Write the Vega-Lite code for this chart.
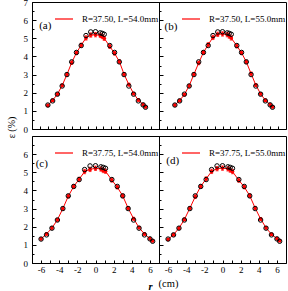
{
  "$schema": "https://vega.github.io/schema/vega-lite/v6.json",
  "padding": {"left": 6, "top": -3, "right": 2, "bottom": 0},
  "spacing": 0,
  "config": {
    "font": "Liberation Serif",
    "view": {"stroke": "#000", "strokeWidth": 1},
    "axis": {"domainColor": "#000", "tickColor": "#000", "labelColor": "#000", "labelFont": "Liberation Serif", "labelFontSize": 9, "grid": false, "titleFont": "Liberation Serif", "tickWidth": 1, "domainWidth": 1, "labelOverlap": false, "title": null},
    "legend": {"orient": "none", "legendX": 22, "legendY": 7, "symbolType": "stroke", "symbolSize": 324, "symbolStrokeWidth": 1.2, "symbolStrokeColor": "#ff0000", "labelFont": "Liberation Serif", "labelFontSize": 9, "labelColor": "#000", "labelLimit": 0, "labelOffset": 8, "padding": 0},
    "title": {"font": "Liberation Serif", "fontWeight": "normal", "color": "#000"}
  },
  "title": {"text": "r", "orient": "bottom", "anchor": "middle", "fontSize": 10.5, "fontWeight": "bold", "fontStyle": "italic", "offset": -8, "dx": 4},
  "datasets": {
    "exp": [
      {"x": -6, "y": 1.32}, {"x": -5.4, "y": 1.55}, {"x": -4.8, "y": 1.92}, {"x": -4.2, "y": 2.37},
      {"x": -3.6, "y": 3.0}, {"x": -3.0, "y": 3.7}, {"x": -2.4, "y": 4.22}, {"x": -1.8, "y": 4.6},
      {"x": -1.2, "y": 5.15}, {"x": -0.6, "y": 5.35}, {"x": 0, "y": 5.36}, {"x": 0.6, "y": 5.3},
      {"x": 0.85, "y": 5.27}, {"x": 1.1, "y": 5.22}, {"x": 1.8, "y": 4.6}, {"x": 2.4, "y": 4.22},
      {"x": 3.0, "y": 3.7}, {"x": 3.6, "y": 3.0}, {"x": 4.2, "y": 2.37}, {"x": 4.8, "y": 1.92},
      {"x": 5.4, "y": 1.55}, {"x": 6.0, "y": 1.33}, {"x": 6.3, "y": 1.2}
    ],
    "sim": [
      {"p": "a", "x": -6, "y": 1.30, "e": 0.06}, {"p": "a", "x": -5.4, "y": 1.58, "e": 0.07}, {"p": "a", "x": -4.8, "y": 1.92, "e": 0.07}, {"p": "a", "x": -4.2, "y": 2.40, "e": 0.08},
      {"p": "a", "x": -3.6, "y": 3.00, "e": 0.09}, {"p": "a", "x": -3.0, "y": 3.66, "e": 0.1}, {"p": "a", "x": -2.4, "y": 4.20, "e": 0.1}, {"p": "a", "x": -1.8, "y": 4.62, "e": 0.11},
      {"p": "a", "x": -1.2, "y": 5.02, "e": 0.12}, {"p": "a", "x": -0.6, "y": 5.18, "e": 0.12}, {"p": "a", "x": 0, "y": 5.20, "e": 0.12}, {"p": "a", "x": 0.6, "y": 5.16, "e": 0.12},
      {"p": "a", "x": 0.85, "y": 5.10, "e": 0.12}, {"p": "a", "x": 1.1, "y": 5.00, "e": 0.12}, {"p": "a", "x": 1.8, "y": 4.55, "e": 0.11}, {"p": "a", "x": 2.4, "y": 4.17, "e": 0.1},
      {"p": "a", "x": 3.0, "y": 3.72, "e": 0.1}, {"p": "a", "x": 3.6, "y": 3.02, "e": 0.09}, {"p": "a", "x": 4.2, "y": 2.45, "e": 0.08}, {"p": "a", "x": 4.8, "y": 1.95, "e": 0.07},
      {"p": "a", "x": 5.4, "y": 1.60, "e": 0.07}, {"p": "a", "x": 6.0, "y": 1.35, "e": 0.06}, {"p": "a", "x": 6.3, "y": 1.22, "e": 0.06},

      {"p": "b", "x": -6, "y": 1.32, "e": 0.06}, {"p": "b", "x": -5.4, "y": 1.57, "e": 0.07}, {"p": "b", "x": -4.8, "y": 1.90, "e": 0.07}, {"p": "b", "x": -4.2, "y": 2.38, "e": 0.08},
      {"p": "b", "x": -3.6, "y": 3.02, "e": 0.09}, {"p": "b", "x": -3.0, "y": 3.64, "e": 0.1}, {"p": "b", "x": -2.4, "y": 4.22, "e": 0.1}, {"p": "b", "x": -1.8, "y": 4.65, "e": 0.11},
      {"p": "b", "x": -1.2, "y": 5.05, "e": 0.12}, {"p": "b", "x": -0.6, "y": 5.22, "e": 0.12}, {"p": "b", "x": 0, "y": 5.24, "e": 0.12}, {"p": "b", "x": 0.6, "y": 5.20, "e": 0.12},
      {"p": "b", "x": 0.85, "y": 5.12, "e": 0.12}, {"p": "b", "x": 1.1, "y": 5.02, "e": 0.12}, {"p": "b", "x": 1.8, "y": 4.58, "e": 0.11}, {"p": "b", "x": 2.4, "y": 4.20, "e": 0.1},
      {"p": "b", "x": 3.0, "y": 3.70, "e": 0.1}, {"p": "b", "x": 3.6, "y": 3.05, "e": 0.09}, {"p": "b", "x": 4.2, "y": 2.42, "e": 0.08}, {"p": "b", "x": 4.8, "y": 1.94, "e": 0.07},
      {"p": "b", "x": 5.4, "y": 1.58, "e": 0.07}, {"p": "b", "x": 6.0, "y": 1.34, "e": 0.06}, {"p": "b", "x": 6.3, "y": 1.22, "e": 0.06},

      {"p": "c", "x": -6, "y": 1.33, "e": 0.06}, {"p": "c", "x": -5.4, "y": 1.60, "e": 0.07}, {"p": "c", "x": -4.8, "y": 1.93, "e": 0.07}, {"p": "c", "x": -4.2, "y": 2.38, "e": 0.08},
      {"p": "c", "x": -3.6, "y": 3.00, "e": 0.09}, {"p": "c", "x": -3.0, "y": 3.68, "e": 0.1}, {"p": "c", "x": -2.4, "y": 4.22, "e": 0.1}, {"p": "c", "x": -1.8, "y": 4.62, "e": 0.11},
      {"p": "c", "x": -1.2, "y": 5.04, "e": 0.12}, {"p": "c", "x": -0.6, "y": 5.16, "e": 0.12}, {"p": "c", "x": 0, "y": 5.22, "e": 0.12}, {"p": "c", "x": 0.6, "y": 5.18, "e": 0.12},
      {"p": "c", "x": 0.85, "y": 5.10, "e": 0.12}, {"p": "c", "x": 1.1, "y": 5.06, "e": 0.12}, {"p": "c", "x": 1.8, "y": 4.57, "e": 0.11}, {"p": "c", "x": 2.4, "y": 4.18, "e": 0.1},
      {"p": "c", "x": 3.0, "y": 3.70, "e": 0.1}, {"p": "c", "x": 3.6, "y": 3.02, "e": 0.09}, {"p": "c", "x": 4.2, "y": 2.44, "e": 0.08}, {"p": "c", "x": 4.8, "y": 1.95, "e": 0.07},
      {"p": "c", "x": 5.4, "y": 1.60, "e": 0.07}, {"p": "c", "x": 6.0, "y": 1.34, "e": 0.06}, {"p": "c", "x": 6.3, "y": 1.22, "e": 0.06},

      {"p": "d", "x": -6, "y": 1.30, "e": 0.06}, {"p": "d", "x": -5.4, "y": 1.56, "e": 0.07}, {"p": "d", "x": -4.8, "y": 1.92, "e": 0.07}, {"p": "d", "x": -4.2, "y": 2.40, "e": 0.08},
      {"p": "d", "x": -3.6, "y": 3.02, "e": 0.09}, {"p": "d", "x": -3.0, "y": 3.66, "e": 0.1}, {"p": "d", "x": -2.4, "y": 4.22, "e": 0.1}, {"p": "d", "x": -1.8, "y": 4.64, "e": 0.11},
      {"p": "d", "x": -1.2, "y": 5.05, "e": 0.12}, {"p": "d", "x": -0.6, "y": 5.20, "e": 0.12}, {"p": "d", "x": 0, "y": 5.23, "e": 0.12}, {"p": "d", "x": 0.6, "y": 5.19, "e": 0.12},
      {"p": "d", "x": 0.85, "y": 5.12, "e": 0.12}, {"p": "d", "x": 1.1, "y": 5.04, "e": 0.12}, {"p": "d", "x": 1.8, "y": 4.56, "e": 0.11}, {"p": "d", "x": 2.4, "y": 4.19, "e": 0.1},
      {"p": "d", "x": 3.0, "y": 3.71, "e": 0.1}, {"p": "d", "x": 3.6, "y": 3.03, "e": 0.09}, {"p": "d", "x": 4.2, "y": 2.43, "e": 0.08}, {"p": "d", "x": 4.8, "y": 1.94, "e": 0.07},
      {"p": "d", "x": 5.4, "y": 1.58, "e": 0.07}, {"p": "d", "x": 6.0, "y": 1.35, "e": 0.06}, {"p": "d", "x": 6.3, "y": 1.23, "e": 0.06}
    ],
    "tags": [
      {"p": "a", "tag": "(a)", "x": -7.1, "y": 5.7},
      {"p": "b", "tag": "(b)", "x": -7.3, "y": 5.6},
      {"p": "c", "tag": "(c)", "x": -6.6, "y": 5.47},
      {"p": "d", "tag": "(d)", "x": -6.2, "y": 5.6}
    ]
  },
  "resolve": {"scale": {"x": "independent", "y": "independent", "color": "independent"}, "legend": {"color": "independent"}},
  "vconcat": [
    {
      "title": {"text": "ε (%)", "orient": "left", "anchor": "middle", "angle": -90, "fontSize": 10, "offset": 6, "dx": 16},
      "spacing": 0,
      "resolve": {"scale": {"x": "independent", "y": "independent", "color": "independent"}, "legend": {"color": "independent"}},
      "vconcat": [
        {
          "spacing": 0,
          "bounds": "flush",
          "resolve": {"scale": {"x": "independent", "y": "independent", "color": "independent"}, "legend": {"color": "independent"}},
          "hconcat": [
            {
              "width": 127, "height": 127,
              "resolve": {"axis": {"x": "independent", "y": "independent"}},
              "layer": [
                {"data": {"name": "sim"}, "transform": [{"filter": "datum.p == 'a'"}],
                 "mark": {"type": "errorbar", "color": "#ff0000", "ticks": {"size": 3, "color": "#ff0000"}, "thickness": 1},
                 "encoding": {"x": {"field": "x", "type": "quantitative", "scale": {"domain": [-8, 8]}, "axis": null},
                              "y": {"field": "y", "type": "quantitative", "scale": {"domain": [0, 7]}, "axis": null}, "yError": {"field": "e"}}},
                {"data": {"name": "sim"}, "transform": [{"filter": "datum.p == 'a'"}],
                 "mark": {"type": "line", "strokeWidth": 1},
                 "encoding": {"x": {"field": "x", "type": "quantitative", "scale": {"domain": [-8, 8]},
                                    "axis": {"orient": "bottom", "values": [-6,-4,-2,0,2,4,6], "labels": false, "tickSize": -3}},
                              "y": {"field": "y", "type": "quantitative", "scale": {"domain": [0, 7]},
                                    "axis": {"orient": "left", "values": [0,1,2,3,4,5,6,7], "tickSize": -4, "labelPadding": 8.5}},
                              "color": {"datum": "R=37.50, L=54.0mm", "scale": {"range": ["#ff0000"]}, "legend": {"title": null}}}},
                {"data": {"name": "sim"}, "transform": [{"filter": "datum.p == 'a'"}],
                 "mark": {"type": "circle", "color": "#ff0000", "size": 14, "opacity": 1},
                 "encoding": {"x": {"field": "x", "type": "quantitative", "scale": {"domain": [-8, 8]}, "axis": null},
                              "y": {"field": "y", "type": "quantitative", "scale": {"domain": [0, 7]}, "axis": null}}},
                {"data": {"name": "exp"},
                 "mark": {"type": "point", "shape": "circle", "filled": false, "color": "#000", "size": 20, "strokeWidth": 1, "opacity": 1},
                 "encoding": {"x": {"field": "x", "type": "quantitative", "scale": {"domain": [-8, 8]},
                                    "axis": {"orient": "bottom", "values": [-7,-5,-3,-1,1,3,5,7], "labels": false, "tickSize": -3, "domain": false}},
                              "y": {"field": "y", "type": "quantitative", "scale": {"domain": [0, 7]},
                                    "axis": {"orient": "left", "values": [0.5,1.5,2.5,3.5,4.5,5.5,6.5], "labels": false, "tickSize": -2, "domain": false}}}},
                {"data": {"name": "tags"}, "transform": [{"filter": "datum.p == 'a'"}],
                 "mark": {"type": "text", "align": "left", "baseline": "middle", "fontSize": 11, "font": "Liberation Serif", "color": "#000"},
                 "encoding": {"x": {"field": "x", "type": "quantitative", "scale": {"domain": [-8, 8]}, "axis": null},
                              "y": {"field": "y", "type": "quantitative", "scale": {"domain": [0, 7]}, "axis": null}, "text": {"field": "tag"}}}
              ]
            },
            {
              "width": 127, "height": 127,
              "resolve": {"axis": {"x": "independent", "y": "independent"}},
              "layer": [
                {"data": {"name": "sim"}, "transform": [{"filter": "datum.p == 'b'"}],
                 "mark": {"type": "errorbar", "color": "#ff0000", "ticks": {"size": 3, "color": "#ff0000"}, "thickness": 1},
                 "encoding": {"x": {"field": "x", "type": "quantitative", "scale": {"domain": [-8, 8]}, "axis": null},
                              "y": {"field": "y", "type": "quantitative", "scale": {"domain": [0, 7]}, "axis": null}, "yError": {"field": "e"}}},
                {"data": {"name": "sim"}, "transform": [{"filter": "datum.p == 'b'"}],
                 "mark": {"type": "line", "strokeWidth": 1},
                 "encoding": {"x": {"field": "x", "type": "quantitative", "scale": {"domain": [-8, 8]},
                                    "axis": {"orient": "bottom", "values": [-6,-4,-2,0,2,4,6], "labels": false, "tickSize": -3}},
                              "y": {"field": "y", "type": "quantitative", "scale": {"domain": [0, 7]},
                                    "axis": {"orient": "left", "values": [0,1,2,3,4,5,6,7], "labels": false, "tickSize": -4}},
                              "color": {"datum": "R=37.50, L=55.0mm", "scale": {"range": ["#ff0000"]}, "legend": {"title": null}}}},
                {"data": {"name": "sim"}, "transform": [{"filter": "datum.p == 'b'"}],
                 "mark": {"type": "circle", "color": "#ff0000", "size": 14, "opacity": 1},
                 "encoding": {"x": {"field": "x", "type": "quantitative", "scale": {"domain": [-8, 8]}, "axis": null},
                              "y": {"field": "y", "type": "quantitative", "scale": {"domain": [0, 7]}, "axis": null}}},
                {"data": {"name": "exp"},
                 "mark": {"type": "point", "shape": "circle", "filled": false, "color": "#000", "size": 20, "strokeWidth": 1, "opacity": 1},
                 "encoding": {"x": {"field": "x", "type": "quantitative", "scale": {"domain": [-8, 8]},
                                    "axis": {"orient": "bottom", "values": [-7,-5,-3,-1,1,3,5,7], "labels": false, "tickSize": -3, "domain": false}},
                              "y": {"field": "y", "type": "quantitative", "scale": {"domain": [0, 7]},
                                    "axis": {"orient": "left", "values": [0.5,1.5,2.5,3.5,4.5,5.5,6.5], "labels": false, "tickSize": -2, "domain": false}}}},
                {"data": {"name": "tags"}, "transform": [{"filter": "datum.p == 'b'"}],
                 "mark": {"type": "text", "align": "left", "baseline": "middle", "fontSize": 11, "font": "Liberation Serif", "color": "#000"},
                 "encoding": {"x": {"field": "x", "type": "quantitative", "scale": {"domain": [-8, 8]}, "axis": null},
                              "y": {"field": "y", "type": "quantitative", "scale": {"domain": [0, 7]}, "axis": null}, "text": {"field": "tag"}}}
              ]
            }
          ]
        },
        {
          "spacing": 0,
          "bounds": "flush",
          "resolve": {"scale": {"x": "independent", "y": "independent", "color": "independent"}, "legend": {"color": "independent"}},
          "title": {"text": "(cm)", "orient": "bottom", "anchor": "middle", "fontSize": 10.5, "offset": 4, "dx": 14},
          "hconcat": [
            {
              "width": 127, "height": 127,
              "resolve": {"axis": {"x": "independent", "y": "independent"}},
              "layer": [
                {"data": {"name": "sim"}, "transform": [{"filter": "datum.p == 'c'"}],
                 "mark": {"type": "errorbar", "color": "#ff0000", "ticks": {"size": 3, "color": "#ff0000"}, "thickness": 1},
                 "encoding": {"x": {"field": "x", "type": "quantitative", "scale": {"domain": [-7, 7]}, "axis": null},
                              "y": {"field": "y", "type": "quantitative", "scale": {"domain": [0, 7]}, "axis": null}, "yError": {"field": "e"}}},
                {"data": {"name": "sim"}, "transform": [{"filter": "datum.p == 'c'"}],
                 "mark": {"type": "line", "strokeWidth": 1},
                 "encoding": {"x": {"field": "x", "type": "quantitative", "scale": {"domain": [-7, 7]},
                                    "axis": {"orient": "bottom", "values": [-6,-4,-2,0,2,4,6], "labelExpr": "'' + datum.value", "tickSize": -3, "labelPadding": 5.5}},
                              "y": {"field": "y", "type": "quantitative", "scale": {"domain": [0, 7]},
                                    "axis": {"orient": "left", "values": [0,1,2,3,4,5,6], "tickSize": -4, "labelPadding": 8.5}},
                              "color": {"datum": "R=37.75, L=54.0mm", "scale": {"range": ["#ff0000"]}, "legend": {"title": null}}}},
                {"data": {"name": "sim"}, "transform": [{"filter": "datum.p == 'c'"}],
                 "mark": {"type": "circle", "color": "#ff0000", "size": 14, "opacity": 1},
                 "encoding": {"x": {"field": "x", "type": "quantitative", "scale": {"domain": [-7, 7]}, "axis": null},
                              "y": {"field": "y", "type": "quantitative", "scale": {"domain": [0, 7]}, "axis": null}}},
                {"data": {"name": "exp"},
                 "mark": {"type": "point", "shape": "circle", "filled": false, "color": "#000", "size": 20, "strokeWidth": 1, "opacity": 1},
                 "encoding": {"x": {"field": "x", "type": "quantitative", "scale": {"domain": [-7, 7]},
                                    "axis": {"orient": "bottom", "values": [-5,-3,-1,1,3,5], "labels": false, "tickSize": -3, "domain": false}},
                              "y": {"field": "y", "type": "quantitative", "scale": {"domain": [0, 7]},
                                    "axis": {"orient": "left", "values": [0.5,1.5,2.5,3.5,4.5,5.5,6.5], "labels": false, "tickSize": -2, "domain": false}}}},
                {"data": {"name": "tags"}, "transform": [{"filter": "datum.p == 'c'"}],
                 "mark": {"type": "text", "align": "left", "baseline": "middle", "fontSize": 11, "font": "Liberation Serif", "color": "#000"},
                 "encoding": {"x": {"field": "x", "type": "quantitative", "scale": {"domain": [-7, 7]}, "axis": null},
                              "y": {"field": "y", "type": "quantitative", "scale": {"domain": [0, 7]}, "axis": null}, "text": {"field": "tag"}}}
              ]
            },
            {
              "width": 127, "height": 127,
              "resolve": {"axis": {"x": "independent", "y": "independent"}},
              "layer": [
                {"data": {"name": "sim"}, "transform": [{"filter": "datum.p == 'd'"}],
                 "mark": {"type": "errorbar", "color": "#ff0000", "ticks": {"size": 3, "color": "#ff0000"}, "thickness": 1},
                 "encoding": {"x": {"field": "x", "type": "quantitative", "scale": {"domain": [-7, 7]}, "axis": null},
                              "y": {"field": "y", "type": "quantitative", "scale": {"domain": [0, 7]}, "axis": null}, "yError": {"field": "e"}}},
                {"data": {"name": "sim"}, "transform": [{"filter": "datum.p == 'd'"}],
                 "mark": {"type": "line", "strokeWidth": 1},
                 "encoding": {"x": {"field": "x", "type": "quantitative", "scale": {"domain": [-7, 7]},
                                    "axis": {"orient": "bottom", "values": [-6,-4,-2,0,2,4,6], "labelExpr": "'' + datum.value", "tickSize": -3, "labelPadding": 5.5}},
                              "y": {"field": "y", "type": "quantitative", "scale": {"domain": [0, 7]},
                                    "axis": {"orient": "left", "values": [0,1,2,3,4,5,6,7], "labels": false, "tickSize": -4}},
                              "color": {"datum": "R=37.75, L=55.0mm", "scale": {"range": ["#ff0000"]}, "legend": {"title": null}}}},
                {"data": {"name": "sim"}, "transform": [{"filter": "datum.p == 'd'"}],
                 "mark": {"type": "circle", "color": "#ff0000", "size": 14, "opacity": 1},
                 "encoding": {"x": {"field": "x", "type": "quantitative", "scale": {"domain": [-7, 7]}, "axis": null},
                              "y": {"field": "y", "type": "quantitative", "scale": {"domain": [0, 7]}, "axis": null}}},
                {"data": {"name": "exp"},
                 "mark": {"type": "point", "shape": "circle", "filled": false, "color": "#000", "size": 20, "strokeWidth": 1, "opacity": 1},
                 "encoding": {"x": {"field": "x", "type": "quantitative", "scale": {"domain": [-7, 7]},
                                    "axis": {"orient": "bottom", "values": [-5,-3,-1,1,3,5], "labels": false, "tickSize": -3, "domain": false}},
                              "y": {"field": "y", "type": "quantitative", "scale": {"domain": [0, 7]},
                                    "axis": {"orient": "left", "values": [0.5,1.5,2.5,3.5,4.5,5.5,6.5], "labels": false, "tickSize": -2, "domain": false}}}},
                {"data": {"name": "tags"}, "transform": [{"filter": "datum.p == 'd'"}],
                 "mark": {"type": "text", "align": "left", "baseline": "middle", "fontSize": 11, "font": "Liberation Serif", "color": "#000"},
                 "encoding": {"x": {"field": "x", "type": "quantitative", "scale": {"domain": [-7, 7]}, "axis": null},
                              "y": {"field": "y", "type": "quantitative", "scale": {"domain": [0, 7]}, "axis": null}, "text": {"field": "tag"}}}
              ]
            }
          ]
        }
      ]
    }
  ]
}
